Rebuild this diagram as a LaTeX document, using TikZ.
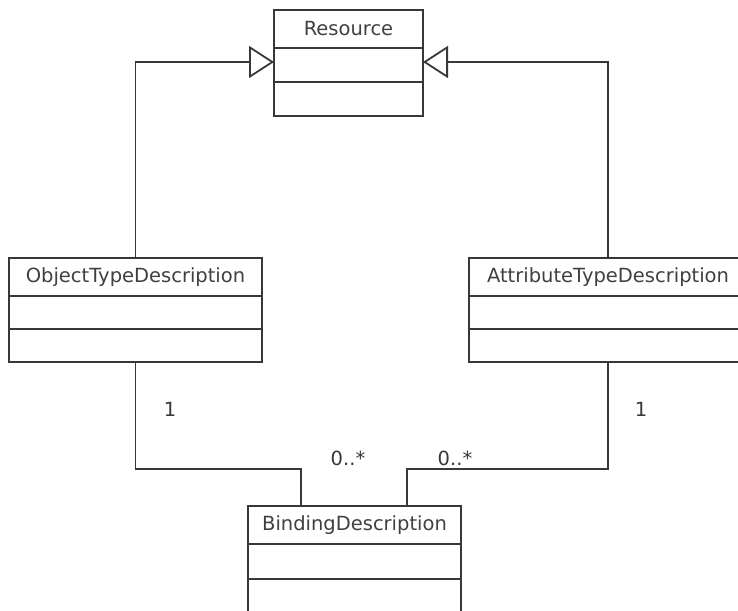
\documentclass[tikz,border=0pt]{standalone}
\usepackage{fontspec}
\setmainfont{DejaVu Sans}
\usetikzlibrary{arrows.meta}
\begin{document}
\begin{tikzpicture}[x=1pt,y=-1pt,
  line width=1.6pt,
  ink/.style={draw=black!78},
  hdr/.style={ink, rectangle, anchor=north west, minimum height=38pt, inner sep=0pt, outer sep=0pt, text=black!75, font=\fontsize{19.5}{22}\selectfont},
  cmp/.style={ink, rectangle, anchor=north west, minimum height=34pt, inner sep=0pt, outer sep=0pt},
  conn/.style={ink, line width=1.6pt},
  gen/.style={conn, -{Triangle[open, length=25pt, width=32pt, line width=1.8pt]}},
  mult/.style={text=black!78, font=\fontsize{19.5}{22}\selectfont, inner sep=0pt}
]
\clip (0,0) rectangle (738,610);
\useasboundingbox (0,0) rectangle (738,610);
\fill[white] (0,0) rectangle (738,610);

% Resource
\node[hdr, minimum width=149pt] (res) at (274,10) {Resource};
\node[cmp, minimum width=149pt] (res1) at (res.south west) {};
\node[cmp, minimum width=149pt] (res2) at (res1.south west) {};

% ObjectTypeDescription
\node[hdr, minimum width=253pt] (obj) at (9,258) {ObjectTypeDescription};
\node[cmp, minimum width=253pt, minimum height=33pt] (obj1) at (obj.south west) {};
\node[cmp, minimum width=253pt, minimum height=33pt] (obj2) at (obj1.south west) {};

% AttributeTypeDescription
\node[hdr, minimum width=278pt] (atr) at (469,258) {AttributeTypeDescription};
\node[cmp, minimum width=278pt, minimum height=33pt] (atr1) at (atr.south west) {};
\node[cmp, minimum width=278pt, minimum height=33pt] (atr2) at (atr1.south west) {};

% BindingDescription
\node[hdr, minimum width=213pt] (bind) at (248,506) {BindingDescription};
\node[cmp, minimum width=213pt, minimum height=35pt] (bind1) at (bind.south west) {};
\node[cmp, minimum width=213pt, minimum height=35pt] (bind2) at (bind1.south west) {};

% generalizations
\draw[gen] (obj.north) |- ([yshift=3pt]res1.west);
\draw[gen] (atr.north) |- ([yshift=3pt]res1.east);

% associations
\draw[conn] (obj2.south) |- ([xshift=-53.5pt,yshift=37pt]bind.north) -- ([xshift=-53.5pt]bind.north);
\draw[conn] (atr2.south) |- ([xshift=52.5pt,yshift=37pt]bind.north) -- ([xshift=52.5pt]bind.north);

% multiplicities
\node[mult] (m1) at (170,409) {1};
\node[mult] (m2) at (641,409) {1};
\node[mult] (m3) at (348,458) {0..*};
\node[mult] (m4) at (455,458) {0..*};
\end{tikzpicture}
\end{document}
